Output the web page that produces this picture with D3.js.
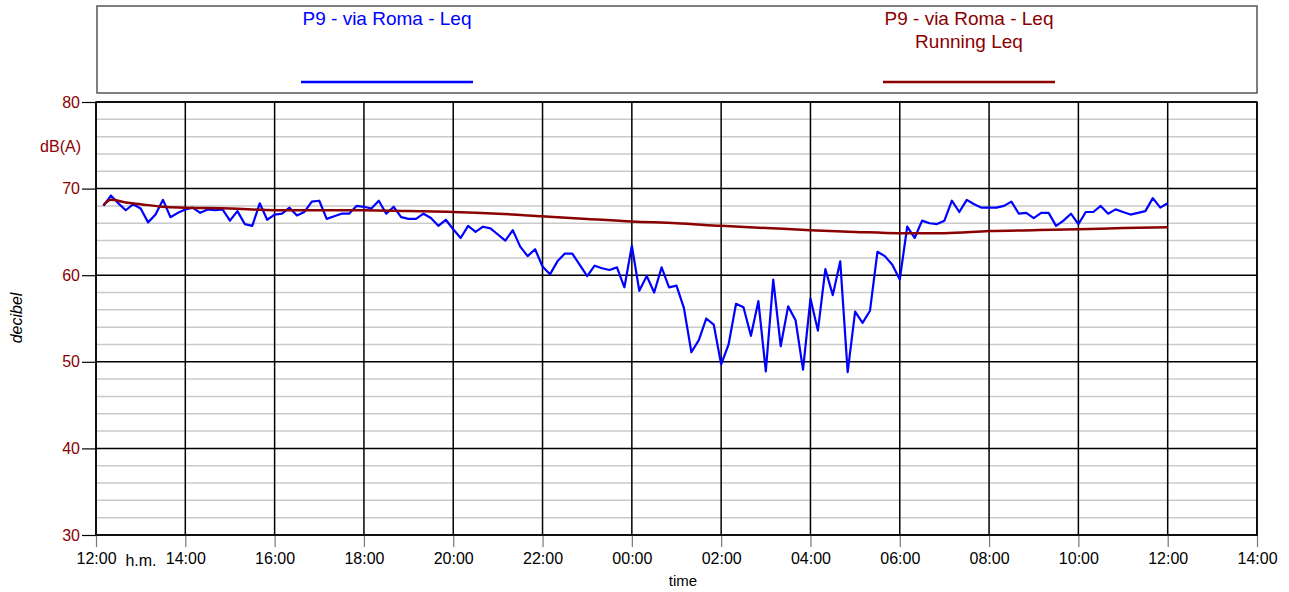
<!DOCTYPE html>
<html>
<head>
<meta charset="utf-8">
<script src="https://cdn.jsdelivr.net/npm/d3@7"></script>
<style>
    body { margin: 0; background: #fff; }
    svg { display: block; font-family: "Liberation Sans", Arial, sans-serif; }
</style>
</head>
<body>
<svg width="1289" height="592"></svg>
<script>
// Leq every 10 minutes, first value at 12:10, last at 12:00 next day
const leqStep = 10;
const leq = [
    68.0, 69.2, 68.3, 67.5, 68.2, 67.7, 66.1, 67.0, 68.7, 66.7, 67.2, 67.6,
    67.8, 67.2, 67.6, 67.5, 67.6, 66.3, 67.4, 65.9, 65.7, 68.3, 66.4, 67.0,
    67.1, 67.8, 66.9, 67.3, 68.5, 68.6, 66.5, 66.8, 67.1, 67.1, 68.0, 67.9,
    67.7, 68.6, 67.1, 67.9, 66.7, 66.5, 66.5, 67.1, 66.6, 65.7, 66.4, 65.3,
    64.3, 65.7, 65.0, 65.6, 65.4, 64.7, 64.0, 65.2, 63.3, 62.2, 63.0, 61.0,
    60.1, 61.6, 62.5, 62.5, 61.2, 59.9, 61.1, 60.8, 60.6, 60.9, 58.6, 63.4,
    58.2, 59.9, 58.0, 60.9, 58.6, 58.8, 56.2, 51.1, 52.5, 55.0, 54.3, 49.7,
    52.0, 56.7, 56.3, 53.0, 57.0, 48.9, 59.5, 51.8, 56.4, 54.8, 49.1, 57.3,
    53.6, 60.7, 57.7, 61.6, 48.8, 55.8, 54.5, 55.9, 62.7, 62.2, 61.2, 59.5,
    65.6, 64.3, 66.3, 66.0, 65.9, 66.3, 68.6, 67.3, 68.7, 68.2, 67.8, 67.8,
    67.8, 68.0, 68.5, 67.1, 67.2, 66.6, 67.2, 67.2, 65.7, 66.3, 67.1, 65.9,
    67.3, 67.3, 68.0, 67.1, 67.6, 67.3, 67.0, 67.2, 67.4, 68.9, 67.8, 68.3,
];

// Running Leq, minutes after 12:00
const runMinutes = [10, 20, 40, 60, 90, 120, 180, 240, 300, 360, 420, 480, 540, 600, 660,
    720, 780, 840, 900, 960, 1020, 1080, 1140, 1200, 1260, 1320, 1380, 1440];
const runLeq = [68.1, 68.7, 68.4, 68.2, 67.9, 67.8, 67.7, 67.5, 67.5, 67.5, 67.4, 67.3, 67.1, 66.8, 66.5,
    66.2, 66.0, 65.7, 65.45, 65.2, 65.0, 64.85, 64.85, 65.1, 65.2, 65.3, 65.45, 65.55];

const seriesNames = ["P9 - via Roma - Leq", "P9 - via Roma - Leq"];
const runningLabel = "Running Leq";
const yTicks = [30, 40, 50, 60, 70, 80];

const blue = "#0000ff";
const darkRed = "#8b0000";

const svg = d3.select("svg");
const start = new Date(2000, 0, 1, 12, 0);
const end = new Date(2000, 0, 2, 14, 0);
const at = min => new Date(start.getTime() + min * 60000);

const plotLeft = 96;
const plotRight = 1257;
const plotTop = 102;
const plotBottom = 535;

const x = d3.scaleTime().domain([start, end]).range([plotLeft, plotRight]);
const y = d3.scaleLinear().domain([30, 80]).range([plotBottom, plotTop]);

// Order matters: grid before lines
const grid = svg.append("g");

grid.selectAll("line.minor")
    .data(d3.range(32, 80, 2).filter(v => v % 10 !== 0))
    .enter()
    .append("line")
    .attr("x1", plotLeft)
    .attr("x2", plotRight)
    .attr("y1", d => y(d))
    .attr("y2", d => y(d))
    .attr("stroke", "#cacaca")
    .attr("stroke-width", 1.5);

grid.selectAll("line.major")
    .data(yTicks)
    .enter()
    .append("line")
    .attr("x1", plotLeft)
    .attr("x2", plotRight)
    .attr("y1", d => y(d))
    .attr("y2", d => y(d))
    .attr("stroke", "#000")
    .attr("stroke-width", 1.5);

grid.selectAll("line.vert")
    .data(x.ticks(d3.timeHour.every(2)))
    .enter()
    .append("line")
    .attr("x1", d => x(d))
    .attr("x2", d => x(d))
    .attr("y1", plotTop)
    .attr("y2", plotBottom)
    .attr("stroke", "#000")
    .attr("stroke-width", 1.5);

// axes
const yAxis = svg.append("g")
    .attr("transform", `translate(${plotLeft},0)`)
    .call(d3.axisLeft(y).tickValues(yTicks).tickSize(14).tickPadding(2));
yAxis.select(".domain").remove();
yAxis.selectAll("line").attr("stroke", "#000").attr("stroke-width", 1.2);
yAxis.selectAll("text").attr("fill", darkRed).style("font-size", "16px").style("font-family", "Liberation Sans, Arial, sans-serif");

const xAxis = svg.append("g")
    .attr("transform", `translate(0,${plotBottom})`)
    .call(d3.axisBottom(x).ticks(d3.timeHour.every(2)).tickFormat(d3.timeFormat("%H:%M")).tickSize(12).tickPadding(6));
xAxis.select(".domain").remove();
xAxis.selectAll("line").attr("stroke", "#777").attr("stroke-width", 1.2);
xAxis.selectAll("text").attr("fill", "#000").style("font-size", "16px").style("font-family", "Liberation Sans, Arial, sans-serif");

svg.append("text")
    .attr("x", 141)
    .attr("y", 566)
    .attr("text-anchor", "middle")
    .style("font-size", "16px")
    .text("h.m.");

svg.append("text")
    .attr("x", 81)
    .attr("y", 152)
    .attr("text-anchor", "end")
    .attr("fill", darkRed)
    .style("font-size", "16px")
    .text("dB(A)");

svg.append("text")
    .attr("transform", "translate(22,318) rotate(-90)")
    .attr("text-anchor", "middle")
    .style("font-size", "16px")
    .style("font-style", "italic")
    .text("decibel");

svg.append("text")
    .attr("x", 683)
    .attr("y", 586)
    .attr("text-anchor", "middle")
    .style("font-size", "15px")
    .text("time");

// series
const line = d3.line().x(d => x(d[0])).y(d => y(d[1]));

svg.append("path")
    .datum(leq.map((v, i) => [at((i + 1) * leqStep), v]))
    .attr("fill", "none")
    .attr("stroke", blue)
    .attr("stroke-width", 2.2)
    .attr("stroke-linejoin", "round")
    .attr("d", line);

svg.append("path")
    .datum(runMinutes.map((m, i) => [at(m), runLeq[i]]))
    .attr("fill", "none")
    .attr("stroke", darkRed)
    .attr("stroke-width", 2.5)
    .attr("stroke-linejoin", "round")
    .attr("d", line.curve(d3.curveMonotoneX));

// plot frame
svg.append("rect")
    .attr("x", plotLeft)
    .attr("y", plotTop)
    .attr("width", plotRight - plotLeft)
    .attr("height", plotBottom - plotTop)
    .attr("fill", "none")
    .attr("stroke", "#000")
    .attr("stroke-width", 1.5);

// legend
const legend = svg.append("g");
legend.append("rect")
    .attr("x", 97)
    .attr("y", 6)
    .attr("width", 1160)
    .attr("height", 87)
    .attr("fill", "none")
    .attr("stroke", "#555")
    .attr("stroke-width", 1.5);

const legendItems = [
    { lines: [seriesNames[0]], color: blue, cx: 387 },
    { lines: [seriesNames[1], runningLabel], color: darkRed, cx: 969 },
];

legendItems.forEach(item => {
    item.lines.forEach((t, k) => {
        legend.append("text")
            .attr("x", item.cx)
            .attr("y", 25 + k * 23)
            .attr("text-anchor", "middle")
            .attr("fill", item.color)
            .style("font-size", "19px")
            .text(t);
    });
    legend.append("line")
        .attr("x1", item.cx - 86)
        .attr("x2", item.cx + 86)
        .attr("y1", 82)
        .attr("y2", 82)
        .attr("stroke", item.color)
        .attr("stroke-width", 2.5);
});
</script>
</body>
</html>
